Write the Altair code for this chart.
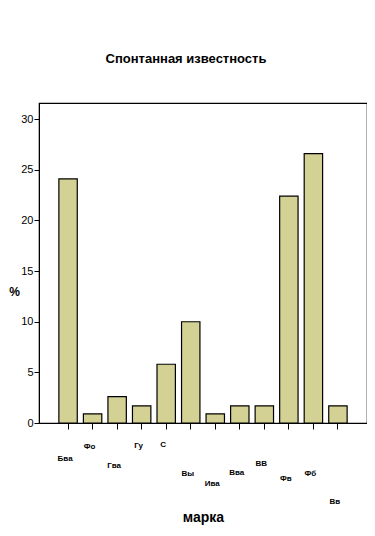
import altair as alt
import pandas as pd

# --- data ---
brands = ["Бва", "Фо", "Гва", "Гу", "С", "Вы", "Ива", "Вва", "ВВ", "Фв", "Фб", "Вв"]
values = [24.1, 0.9, 2.6, 1.7, 5.8, 10.0, 0.9, 1.7, 1.7, 22.4, 26.6, 1.7]
y_ticks = [0, 5, 10, 15, 20, 25, 30]

# staggered label distances below the axis (style only)
label_pad = [25, 13, 32, 12, 11, 40, 50, 39, 30, 45, 40, 68]

df = pd.DataFrame({"brand": brands, "value": values})

FONT = "Liberation Sans Narrow, Liberation Sans, Arial, sans-serif"

cats_js = "[" + ",".join("'" + b + "'" for b in brands) + "]"
pads_js = "[" + ",".join(str(p) for p in label_pad) + "]"

chart = (
    alt.Chart(df)
    .mark_bar(fill="#d3d194", stroke="black", strokeWidth=1.2)
    .encode(
        x=alt.X(
            "brand:N",
            sort=brands,
            scale=alt.Scale(paddingInner=0.25, paddingOuter=0.81),
            axis=alt.Axis(
                title="марка",
                titleFont=FONT,
                titleFontSize=14,
                titleFontWeight="bold",
                titleBaseline="middle",
                titleY=94,
                labelAngle=0,
                labelFont=FONT,
                labelFontSize=8,
                labelFontWeight="bold",
                labelBaseline="top",
                labelOffset=-3,
                labelPadding={"expr": pads_js + "[indexof(" + cats_js + ", datum.value)]"},
                tickSize=6,
                tickColor="black",
                domainColor="black",
                labelColor="black",
                titleColor="black",
            ),
        ),
        y=alt.Y(
            "value:Q",
            scale=alt.Scale(domain=[0, 31.6], nice=False),
            axis=alt.Axis(
                title="%",
                titleAngle=0,
                titleFont=FONT,
                titleFontSize=12,
                titleFontWeight="bold",
                titleAlign="center",
                titleBaseline="middle",
                titleX=-25,
                titleY=188,
                values=y_ticks,
                grid=False,
                labelFont=FONT,
                labelFontSize=11,
                labelPadding=1,
                tickSize=5,
                tickColor="black",
                domainColor="black",
                labelColor="black",
                titleColor="black",
            ),
        ),
    )
    .properties(
        width=328,
        height=320,
        background="white",
        autosize=alt.AutoSizeParams(type="none"),
        padding={"left": 31, "top": 95, "right": 0, "bottom": 104},
        title=alt.TitleParams(
            "Спонтанная известность",
            font=FONT,
            fontSize=13,
            fontWeight="bold",
            color="black",
            anchor="middle",
            dx=-17,
            offset=37,
        ),
    )
    .configure_view(stroke="black", strokeWidth=1.2, strokeOpacity=1)
)

chart.save("out.html", embed_options={"renderer": "svg", "actions": False})
